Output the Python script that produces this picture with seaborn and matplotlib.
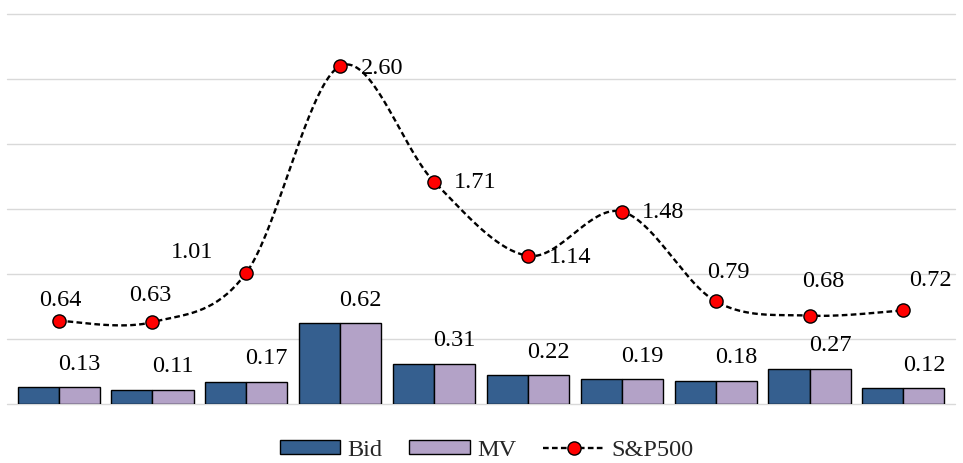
import numpy as np
import pandas as pd
import matplotlib
matplotlib.use("Agg")
import matplotlib.pyplot as plt
import seaborn as sns
from matplotlib.patches import Patch
from matplotlib.lines import Line2D

# ---- data -------------------------------------------------------------
periods = ["P1", "P2", "P3", "P4", "P5", "P6", "P7", "P8", "P9", "P10"]
bid = [0.13, 0.11, 0.17, 0.62, 0.31, 0.22, 0.19, 0.18, 0.27, 0.12]
mv = [0.13, 0.11, 0.17, 0.62, 0.31, 0.22, 0.19, 0.18, 0.27, 0.12]
sp500 = [0.64, 0.63, 1.01, 2.60, 1.71, 1.14, 1.48, 0.79, 0.68, 0.72]
series_names = ["Bid", "MV", "S&P500"]
y_ticks = [0.0, 0.5, 1.0, 1.5, 2.0, 2.5, 3.0]

# label placement for the S&P500 values (pixel offsets from each marker)
sp_label_offsets = [(2, 20), (-2, 27), (-54, 20), (42, -2), (41, -1),
                    (42, -2), (41, -1), (13, 29), (14, 34), (27, 30)]

BID_COLOR = "#355F8F"
MV_COLOR = "#B3A2C7"
GRID_COLOR = "#D9D9D9"
FS = 17.5

sns.set_theme(style="white")
plt.rcParams["font.family"] = ["Liberation Serif", "DejaVu Serif"]

df = pd.DataFrame({
    "period": periods * 2,
    "value": bid + mv,
    "series": [series_names[0]] * len(periods) + [series_names[1]] * len(periods),
})

fig = plt.figure(figsize=(9.63, 4.63), dpi=100)
ax = fig.add_axes([7 / 963, 59 / 463, 948 / 963, 390 / 463])

for v in y_ticks:
    ax.axhline(v, color=GRID_COLOR, lw=1.0, zorder=0, clip_on=False)

sns.barplot(data=df, x="period", y="value", hue="series",
            hue_order=series_names[:2],
            palette={series_names[0]: BID_COLOR, series_names[1]: MV_COLOR},
            width=0.874, gap=0, edgecolor="black", linewidth=1.0,
            saturation=1, errorbar=None, legend=False, ax=ax, zorder=2)

# value labels above the MV bars
for bar, val in zip(ax.containers[1], mv):
    ax.annotate(f"{val:.2f}", (bar.get_x() + bar.get_width() / 2, bar.get_height()),
                xytext=(0, 23), textcoords="offset pixels",
                ha="center", va="center", fontsize=FS, color="black", zorder=5)

# smoothed S&P500 curve (Catmull-Rom through the data points)
x = np.arange(len(sp500), dtype=float)
y = np.asarray(sp500, dtype=float)
px = np.concatenate([[x[0]], x, [x[-1]]])
py = np.concatenate([[y[0]], y, [y[-1]]])
xs, ys = [], []
t = np.linspace(0, 1, 40)
for i in range(1, len(px) - 2):
    p0, p1, p2, p3 = (np.array([px[j], py[j]]) for j in (i - 1, i, i + 1, i + 2))
    c1 = p1 + (p2 - p0) / 6
    c2 = p2 - (p3 - p1) / 6
    seg = ((1 - t) ** 3)[:, None] * p1 + (3 * (1 - t) ** 2 * t)[:, None] * c1 \
        + (3 * (1 - t) * t ** 2)[:, None] * c2 + (t ** 3)[:, None] * p2
    xs.extend(seg[:, 0])
    ys.extend(seg[:, 1])

dash = (0, (2.4, 1.4))
ax.plot(xs, ys, color="black", lw=1.7, linestyle=dash, zorder=3)
ax.plot(x, y, linestyle="none", marker="o", ms=9.5, mfc="red", mec="black",
        mew=1.0, zorder=4)

for xi, yi, (dx, dy) in zip(x, y, sp_label_offsets):
    ax.annotate(f"{yi:.2f}", (xi, yi), xytext=(dx, dy), textcoords="offset pixels",
                ha="center", va="center", fontsize=FS, color="black", zorder=5)

ax.set_xlim(-0.55, len(periods) - 0.45)
ax.set_ylim(0, 3.0)
ax.set_xticks([])
ax.set_yticks([])
ax.set_xlabel("")
ax.set_ylabel("")
for s in ax.spines.values():
    s.set_visible(False)

handles = [
    Patch(facecolor=BID_COLOR, edgecolor="black", lw=1.0),
    Patch(facecolor=MV_COLOR, edgecolor="black", lw=1.0),
    Line2D([0], [0], color="black", lw=1.7, linestyle=dash, marker="o",
           ms=9.5, mfc="red", mec="black", mew=1.0),
]
fig.legend(handles, series_names, loc="center",
           bbox_to_anchor=(486.5 / 963, 1 - 450 / 463), ncol=3, frameon=False,
           fontsize=FS, handlelength=2.5, handleheight=0.55,
           handletextpad=0.3, columnspacing=1.1, numpoints=1)

fig.savefig("out.png", dpi=100)
